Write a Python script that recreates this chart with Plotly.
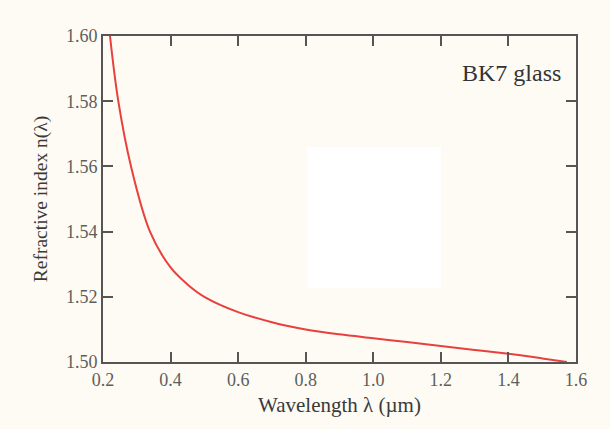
import plotly.graph_objects as go

# Data
wavelength_um = [0.2207, 0.2453, 0.2829, 0.3391, 0.40, 0.45, 0.50, 0.60,
                 0.70, 0.80, 0.90, 1.00, 1.10, 1.20, 1.30, 1.40, 1.50, 1.573]
refractive_index = [1.600, 1.580, 1.560, 1.540, 1.5290, 1.5238, 1.5200, 1.5153,
                    1.5122, 1.5100, 1.5085, 1.5073, 1.5061, 1.5049, 1.5037, 1.5025, 1.5011, 1.5000]
x_ticks = [0.2, 0.4, 0.6, 0.8, 1.0, 1.2, 1.4, 1.6]
y_ticks = [1.50, 1.52, 1.54, 1.56, 1.58, 1.60]

BG = "#fdfbf3"
AXC = "#555555"
FONT = "Liberation Serif"

fig = go.Figure()
fig.add_trace(go.Scatter(
    x=wavelength_um, y=refractive_index, mode="lines",
    line=dict(color="#e8403e", width=2, shape="spline", smoothing=1.0),
    hoverinfo="skip", showlegend=False,
))

axis_common = dict(
    showgrid=False, zeroline=False, showline=True, linecolor=AXC, linewidth=2,
    mirror="ticks", ticks="inside", ticklen=10, tickwidth=1.5, tickcolor=AXC,
    tickfont=dict(family=FONT, size=18, color="#5e5e5e"),
)

fig.update_layout(
    width=610, height=429,
    margin=dict(l=103, r=34, t=36, b=67),
    paper_bgcolor=BG, plot_bgcolor=BG,
    xaxis=dict(range=[0.2, 1.6], tickvals=x_ticks, ticktext=[f"{v:.1f}" for v in x_ticks],
               title=dict(text="Wavelength λ (µm)", font=dict(family=FONT, size=21, color="#3a3a3a"),
                          standoff=9),
               **axis_common),
    yaxis=dict(range=[1.50, 1.60], tickvals=y_ticks, ticktext=[f"{v:.2f}" for v in y_ticks],
               title=dict(text="Refractive index n(λ)", font=dict(family=FONT, size=19.5, color="#3a3a3a"),
                          standoff=13),
               **axis_common),
    annotations=[dict(text="BK7 glass", xref="paper", yref="paper", x=0.9725, y=(362 - 73) / 326,
                      xanchor="right", yanchor="middle", showarrow=False,
                      font=dict(family=FONT, size=24, color="#333333"))],
    shapes=[dict(type="rect", xref="paper", yref="paper", x0=(307 - 103) / 473, x1=(441 - 103) / 473,
                 y0=(362 - 288) / 326, y1=(362 - 147) / 326, fillcolor="#ffffff", line=dict(width=0),
                 layer="below")],
)

fig.write_html("out.html")
